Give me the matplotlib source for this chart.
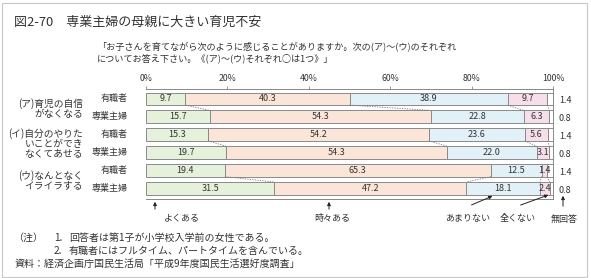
import numpy as np
import matplotlib
matplotlib.use("Agg")
import matplotlib.pyplot as plt
from matplotlib.patches import Rectangle, FancyArrowPatch

plt.rcParams['font.family'] = ['Noto Sans CJK JP', 'DejaVu Sans']

# ============================================================
# Data
# ============================================================
categories = ["よくある", "時々ある", "あまりない", "全くない", "無回答"]
respondents = ["有職者", "専業主婦", "有職者", "専業主婦", "有職者", "専業主婦"]
groups = ["(ア)育児の自信\nがなくなる",
          "(イ)自分のやりた\nいことができ\nなくてあせる",
          "(ウ)なんとなく\nイライラする"]

often = [9.7, 15.7, 15.3, 19.7, 19.4, 31.5]
sometimes = [40.3, 54.3, 54.2, 54.3, 65.3, 47.2]
rarely = [38.9, 22.8, 23.6, 22.0, 12.5, 18.1]
never = [9.7, 6.3, 5.6, 3.1, 1.4, 2.4]
no_answer = [1.4, 0.8, 1.4, 0.8, 1.4, 0.8]

tick_labels = ["0%", "20%", "40%", "60%", "80%", "100%"]

colors = ["#e5f1da", "#fbe5d9", "#e2f1f7", "#f6dfeb", "#ffffff"]
edge = "#8a8a8a"
txt = "#333333"

W, H = 591, 278
fig = plt.figure(figsize=(W / 100, H / 100), dpi=100)


def px(x, y):
    return x / W, 1 - y / H


# frame around the whole picture
fig.patches.append(Rectangle((0.004, 0.005), 0.99, 0.985, transform=fig.transFigure,
                             fill=False, edgecolor="#c8c8c8", linewidth=0.8))

ax = fig.add_axes([146 / W, 1 - 199 / H, 407 / W, 110 / H])

series = np.array([often, sometimes, rarely, never, no_answer])
y = np.arange(len(respondents))
h = 0.70
left = np.zeros(len(y))
for k in range(len(categories)):
    ax.barh(y, series[k], left=left, height=h, color=colors[k],
            edgecolor=edge, linewidth=0.7, zorder=2)
    left = left + series[k]

# value labels
cum = np.cumsum(series, axis=0)
for i in range(len(y)):
    for k in range(4):
        start = cum[k, i] - series[k, i]
        ax.text(start + series[k, i] / 2, y[i], f"{series[k, i]:.1f}",
                ha="center", va="center", fontsize=6.5, color=txt, zorder=4)
    ax.text(103.0, y[i] + 0.12, f"{no_answer[i]:.1f}", ha="center", va="center",
            fontsize=6.5, color=txt, clip_on=False)

# dotted connectors between paired bars
for i in range(0, len(y), 2):
    for k in range(4):
        ax.plot([cum[k, i], cum[k, i + 1]], [y[i] + h / 2, y[i + 1] - h / 2],
                ls=(0, (1.5, 1.5)), color="#777777", lw=0.6, zorder=3)

ax.set_xlim(0, 100)
ax.set_ylim(5.6, -0.55)
ax.set_yticks([])
ax.xaxis.tick_top()
ax.set_xticks(np.arange(0, 101, 20))
ax.set_xticklabels(tick_labels, fontsize=6.3, color=txt)
ax.tick_params(axis="x", length=2, width=0.6, color="#888888", pad=2)
ax.spines["left"].set_visible(False)
for s in ["top", "bottom", "right"]:
    ax.spines[s].set_color("#888888")
    ax.spines[s].set_linewidth(0.7)

# respondent labels
for i, r in enumerate(respondents):
    ax.text(-4.5, y[i], r, ha="right", va="center", fontsize=6.5, color=txt,
            clip_on=False)

# group labels
group_y = [0.55, 2.5, 4.55]
for g, gy in zip(groups, group_y):
    ax.text(-15.5, gy, g, ha="right", va="center", fontsize=7, color=txt,
            linespacing=0.95, clip_on=False)

# title and question
fig.text(*px(14, 22), "図2-70　専業主婦の母親に大きい育児不安", fontsize=9.4,
         color=txt, va="center", ha="left")
fig.text(*px(97, 46), "「お子さんを育てながら次のように感じることがありますか。次の(ア)～(ウ)のそれぞれ",
         fontsize=6.6, color=txt, va="center", ha="left")
fig.text(*px(97, 58), "についてお答え下さい。《(ア)～(ウ)それぞれ○は1つ》」",
         fontsize=6.6, color=txt, va="center", ha="left")

# arrows to categories
arrow_kw = dict(arrowstyle="-|>", color="#222222", lw=0.7, mutation_scale=5)
arrows = [((155, 212), (155, 199), "よくある", (182, 219)),
          ((329, 212), (329, 199), "時々ある", (332, 219)),
          ((469, 206), (495, 195), "あまりない", (468, 219)),
          ((518, 206), (551, 194), "全くない", (518, 219)),
          ((563, 209), (563, 193), "無回答", (564, 219))]
for start, end, label, lpos in arrows:
    fig.add_artist(FancyArrowPatch(px(*start), px(*end),
                                   transform=fig.transFigure, **arrow_kw))
    fig.text(*px(*lpos), label, fontsize=6.5, color=txt, ha="center", va="center")

# notes
note_kw = dict(fontsize=7.2, color=txt, va="center", ha="left")
fig.text(*px(13, 238), "（注）", **note_kw)
fig.text(*px(54, 238), "1.", **note_kw)
fig.text(*px(69, 238), "回答者は第1子が小学校入学前の女性である。", **note_kw)
fig.text(*px(54, 251), "2.", **note_kw)
fig.text(*px(69, 251), "有職者にはフルタイム、パートタイムを含んでいる。", **note_kw)
fig.text(*px(15, 264), "資料：経済企画庁国民生活局「平成9年度国民生活選好度調査」", **note_kw)

fig.savefig("out.png", dpi=100)
